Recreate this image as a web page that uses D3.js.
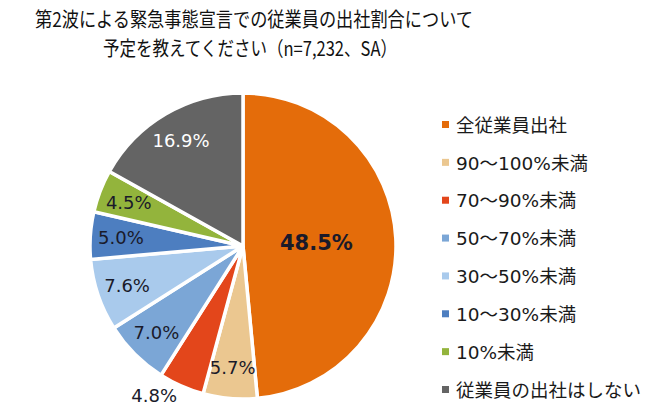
<!DOCTYPE html>
<html><head><meta charset="utf-8">
<script src="https://cdn.jsdelivr.net/npm/d3@7"></script>
<style>body{margin:0;background:#fff}svg{display:block}</style>
</head><body>
<svg id="c" width="664" height="410"></svg>
<script>
const categories = ["全従業員出社","90～100%未満","70～90%未満","50～70%未満","30～50%未満","10～30%未満","10%未満","従業員の出社はしない"];
const values = [48.5, 5.7, 4.8, 7.0, 7.6, 5.0, 4.5, 16.9];
const colors = ["#E46C0A","#EBC790","#E3461B","#7BA6D6","#A9CAEC","#4D7EC0","#93B43C","#646464"];
const titleLines = ["第2波による緊急事態宣言での従業員の出社割合について","予定を教えてください（n=7,232、SA）"];

const svg = d3.select("#c");
const font = "'DejaVu Sans','Noto Sans CJK JP',sans-serif";
const cx = 243, cy = 246, R = 153;

// title
svg.append("text").attr("x", 254).attr("y", 27).attr("text-anchor","middle")
  .attr("font-family","'Noto Sans CJK JP',sans-serif").attr("font-size",20).attr("fill","#111")
  .attr("textLength",438).attr("lengthAdjust","spacingAndGlyphs").text(titleLines[0]);
svg.append("text").attr("x", 250).attr("y", 56).attr("text-anchor","middle")
  .attr("font-family","'Noto Sans CJK JP',sans-serif").attr("font-size",20).attr("fill","#111")
  .attr("textLength",294).attr("lengthAdjust","spacingAndGlyphs").text(titleLines[1]);

const data = categories.map((c,i)=>({cat:c, value:values[i], color:colors[i]}));
const pie = d3.pie().value(d=>d.value).sort(null);
const arcs = pie(data);
const arc = d3.arc().innerRadius(0).outerRadius(R);
const g = svg.append("g").attr("transform",`translate(${cx},${cy})`);
g.selectAll("path").data(arcs).join("path")
  .attr("d",arc).attr("fill",d=>d.data.color)
  .attr("stroke","#fff").attr("stroke-width",3.5).attr("stroke-linejoin","miter");

function labelRadius(d){
  if (d.index === 0) return R*0.48;
  if (d.index === 2) return R*1.07;
  return R*0.8;
}
g.selectAll("text.lab").data(arcs).join("text").attr("class","lab")
  .attr("transform",d=>{
    const r = labelRadius(d); const a = (d.startAngle+d.endAngle)/2;
    return `translate(${r*Math.sin(a)},${-r*Math.cos(a)})`;
  })
  .attr("text-anchor",d=>d.index===2?"end":"middle").attr("dy","0.36em")
  .attr("font-family",font)
  .attr("font-size",d=>d.index===0?21:18)
  .attr("font-weight",d=>d.index===0?"bold":"normal")
  .attr("fill",d=>d.index===7?"#fff":"#1a1a2a")
  .text(d=>d.data.value.toFixed(1)+"%");

// legend
const ly = d3.scalePoint().domain(categories).range([125, 390]);
const lg = svg.append("g").selectAll("g").data(data).join("g")
  .attr("transform",d=>`translate(442,${ly(d.cat)})`);
lg.append("rect").attr("x",0).attr("y",-4).attr("width",7).attr("height",7).attr("fill",d=>d.color);
lg.append("text").attr("x",14).attr("dy","0.36em").attr("font-family",font).attr("font-size",18.5)
  .attr("fill","#1a1a1a").text(d=>d.cat);
</script>
</body></html>
